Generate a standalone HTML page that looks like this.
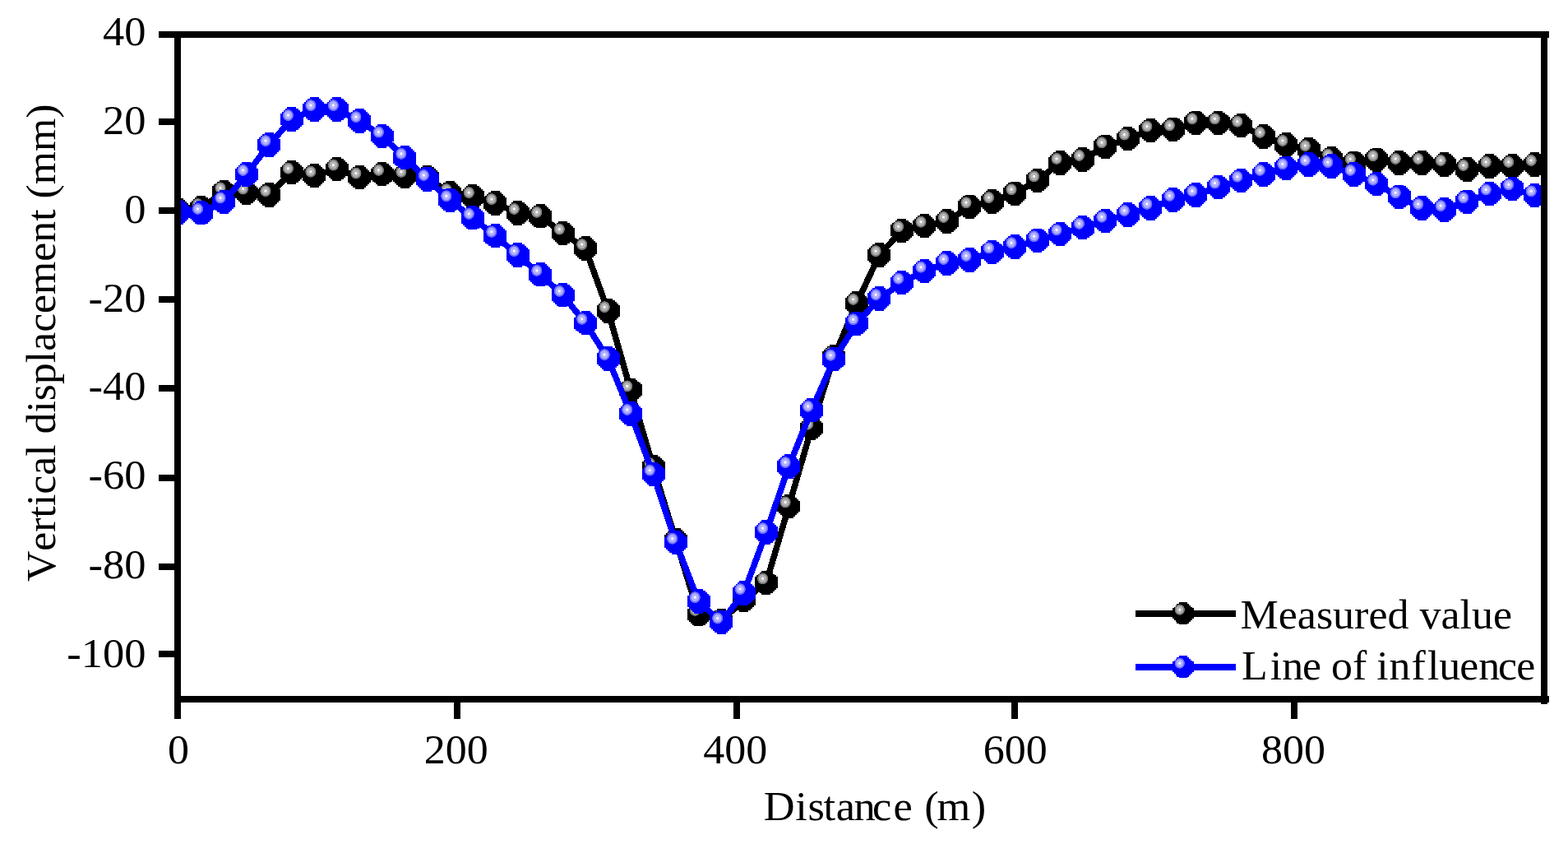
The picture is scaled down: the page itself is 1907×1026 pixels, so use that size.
<!DOCTYPE html>
<html lang="en">
<head>
<meta charset="utf-8">
<title>Vertical displacement vs distance</title>
<style>
html,body{margin:0;padding:0;background:#fff;}
body{width:1907px;height:1026px;overflow:hidden;}
svg{display:block;}
text{font-family:"Liberation Serif", "Times New Roman", serif;font-size:50px;fill:#000;font-variant-ligatures:none;font-kerning:none;}
</style>
</head>
<body>
<svg width="1907" height="1026" viewBox="0 0 1907 1026">
<defs>
<clipPath id="plot"><rect x="216" y="42" width="1662" height="808"/></clipPath>
<radialGradient id="gmk" cx="0.5" cy="0.5" r="0.5">
<stop offset="0" stop-color="#fff"/>
<stop offset="0.12" stop-color="#fff"/>
<stop offset="0.32" stop-color="#b2b2b2"/>
<stop offset="0.64" stop-color="#b2b2b2"/>
<stop offset="0.74" stop-color="#7a7a7a"/>
<stop offset="0.93" stop-color="#7a7a7a"/>
<stop offset="1" stop-color="#000"/>
</radialGradient>
<g id="mk">
<path d="M5.5,-14.70 L5.5,-12.74 L8,-12.74 L8,-10.78 L10,-10.78 L10,-8.82 L12,-8.82 L12,-6.86 L14,-6.86 L14,-4.90 L14,-4.90 L14,-2.94 L14,-2.94 L14,-0.98 L14,-0.98 L14,0.98 L14,0.98 L14,2.94 L14,2.94 L14,4.90 L14,4.90 L14,6.86 L12,6.86 L12,8.82 L10,8.82 L10,10.78 L8,10.78 L8,12.74 L5.5,12.74 L5.5,14.70 L-5.5,14.70 L-5.5,12.74 L-8,12.74 L-8,10.78 L-10,10.78 L-10,8.82 L-12,8.82 L-12,6.86 L-14,6.86 L-14,4.90 L-14,4.90 L-14,2.94 L-14,2.94 L-14,0.98 L-14,0.98 L-14,-0.98 L-14,-0.98 L-14,-2.94 L-14,-2.94 L-14,-4.90 L-14,-4.90 L-14,-6.86 L-12,-6.86 L-12,-8.82 L-10,-8.82 L-10,-10.78 L-8,-10.78 L-8,-12.74 L-5.5,-12.74 L-5.5,-14.70Z" fill="#000"/>
<ellipse cx="-4.3" cy="-4.9" rx="6.8" ry="7.2" fill="url(#gmk)" shape-rendering="geometricPrecision"/>
</g>
<radialGradient id="gmb" cx="0.5" cy="0.5" r="0.5">
<stop offset="0" stop-color="#fff"/>
<stop offset="0.12" stop-color="#fff"/>
<stop offset="0.32" stop-color="#b0b0ff"/>
<stop offset="0.64" stop-color="#b0b0ff"/>
<stop offset="0.74" stop-color="#7070ff"/>
<stop offset="0.93" stop-color="#7070ff"/>
<stop offset="1" stop-color="#0000ff"/>
</radialGradient>
<g id="mb">
<path d="M5.5,-14.70 L5.5,-12.74 L8,-12.74 L8,-10.78 L10,-10.78 L10,-8.82 L12,-8.82 L12,-6.86 L14,-6.86 L14,-4.90 L14,-4.90 L14,-2.94 L14,-2.94 L14,-0.98 L14,-0.98 L14,0.98 L14,0.98 L14,2.94 L14,2.94 L14,4.90 L14,4.90 L14,6.86 L12,6.86 L12,8.82 L10,8.82 L10,10.78 L8,10.78 L8,12.74 L5.5,12.74 L5.5,14.70 L-5.5,14.70 L-5.5,12.74 L-8,12.74 L-8,10.78 L-10,10.78 L-10,8.82 L-12,8.82 L-12,6.86 L-14,6.86 L-14,4.90 L-14,4.90 L-14,2.94 L-14,2.94 L-14,0.98 L-14,0.98 L-14,-0.98 L-14,-0.98 L-14,-2.94 L-14,-2.94 L-14,-4.90 L-14,-4.90 L-14,-6.86 L-12,-6.86 L-12,-8.82 L-10,-8.82 L-10,-10.78 L-8,-10.78 L-8,-12.74 L-5.5,-12.74 L-5.5,-14.70Z" fill="#0000ff"/>
<ellipse cx="-4.3" cy="-4.9" rx="6.8" ry="7.2" fill="url(#gmb)" shape-rendering="geometricPrecision"/>
</g>
</defs>
<rect width="1907" height="1026" fill="#fff"/>
<g clip-path="url(#plot)" shape-rendering="crispEdges">
<polyline points="217.3,256.0 244.8,253.0 272.3,233.3 299.8,234.5 327.2,237.1 354.7,209.6 382.2,213.6 409.7,205.5 437.2,215.5 464.7,211.7 492.2,213.8 519.6,216.0 547.1,235.0 574.6,239.0 602.1,247.0 629.6,258.9 657.1,262.8 684.6,283.5 712.0,302.0 739.5,378.1 767.0,474.3 794.5,568.0 822.0,657.0 849.5,746.8 877.0,754.7 904.5,729.5 931.9,708.3 959.4,615.4 986.9,520.6 1014.4,433.5 1041.9,368.8 1069.4,310.1 1096.9,280.3 1124.3,274.6 1151.8,268.9 1179.3,251.2 1206.8,245.0 1234.3,235.2 1261.8,219.3 1289.3,197.8 1316.7,193.9 1344.2,178.2 1371.7,168.5 1399.2,158.5 1426.7,157.2 1454.2,149.2 1481.7,149.3 1509.1,152.6 1536.6,165.8 1564.1,175.9 1591.6,182.0 1619.1,192.5 1646.6,198.2 1674.1,194.2 1701.5,197.9 1729.0,197.9 1756.5,199.9 1784.0,205.9 1811.5,201.8 1839.0,201.8 1866.5,199.9" fill="none" stroke="#000" stroke-width="7.5" stroke-linejoin="round"/>
<use href="#mk" x="217.3" y="256.0"/>
<use href="#mk" x="244.8" y="253.0"/>
<use href="#mk" x="272.3" y="233.3"/>
<use href="#mk" x="299.8" y="234.5"/>
<use href="#mk" x="327.2" y="237.1"/>
<use href="#mk" x="354.7" y="209.6"/>
<use href="#mk" x="382.2" y="213.6"/>
<use href="#mk" x="409.7" y="205.5"/>
<use href="#mk" x="437.2" y="215.5"/>
<use href="#mk" x="464.7" y="211.7"/>
<use href="#mk" x="492.2" y="213.8"/>
<use href="#mk" x="519.6" y="216.0"/>
<use href="#mk" x="547.1" y="235.0"/>
<use href="#mk" x="574.6" y="239.0"/>
<use href="#mk" x="602.1" y="247.0"/>
<use href="#mk" x="629.6" y="258.9"/>
<use href="#mk" x="657.1" y="262.8"/>
<use href="#mk" x="684.6" y="283.5"/>
<use href="#mk" x="712.0" y="302.0"/>
<use href="#mk" x="739.5" y="378.1"/>
<use href="#mk" x="767.0" y="474.3"/>
<use href="#mk" x="794.5" y="568.0"/>
<use href="#mk" x="822.0" y="657.0"/>
<use href="#mk" x="849.5" y="746.8"/>
<use href="#mk" x="877.0" y="754.7"/>
<use href="#mk" x="904.5" y="729.5"/>
<use href="#mk" x="931.9" y="708.3"/>
<use href="#mk" x="959.4" y="615.4"/>
<use href="#mk" x="986.9" y="520.6"/>
<use href="#mk" x="1014.4" y="433.5"/>
<use href="#mk" x="1041.9" y="368.8"/>
<use href="#mk" x="1069.4" y="310.1"/>
<use href="#mk" x="1096.9" y="280.3"/>
<use href="#mk" x="1124.3" y="274.6"/>
<use href="#mk" x="1151.8" y="268.9"/>
<use href="#mk" x="1179.3" y="251.2"/>
<use href="#mk" x="1206.8" y="245.0"/>
<use href="#mk" x="1234.3" y="235.2"/>
<use href="#mk" x="1261.8" y="219.3"/>
<use href="#mk" x="1289.3" y="197.8"/>
<use href="#mk" x="1316.7" y="193.9"/>
<use href="#mk" x="1344.2" y="178.2"/>
<use href="#mk" x="1371.7" y="168.5"/>
<use href="#mk" x="1399.2" y="158.5"/>
<use href="#mk" x="1426.7" y="157.2"/>
<use href="#mk" x="1454.2" y="149.2"/>
<use href="#mk" x="1481.7" y="149.3"/>
<use href="#mk" x="1509.1" y="152.6"/>
<use href="#mk" x="1536.6" y="165.8"/>
<use href="#mk" x="1564.1" y="175.9"/>
<use href="#mk" x="1591.6" y="182.0"/>
<use href="#mk" x="1619.1" y="192.5"/>
<use href="#mk" x="1646.6" y="198.2"/>
<use href="#mk" x="1674.1" y="194.2"/>
<use href="#mk" x="1701.5" y="197.9"/>
<use href="#mk" x="1729.0" y="197.9"/>
<use href="#mk" x="1756.5" y="199.9"/>
<use href="#mk" x="1784.0" y="205.9"/>
<use href="#mk" x="1811.5" y="201.8"/>
<use href="#mk" x="1839.0" y="201.8"/>
<use href="#mk" x="1866.5" y="199.9"/>
<polyline points="217.3,257.9 244.8,258.8 272.3,245.4 299.8,211.9 327.2,176.0 354.7,145.0 382.2,133.0 409.7,133.0 437.2,147.0 464.7,165.5 492.2,191.7 519.6,217.9 547.1,243.2 574.6,264.8 602.1,286.7 629.6,310.0 657.1,333.8 684.6,358.8 712.0,392.7 739.5,436.0 767.0,502.9 794.5,576.5 822.0,659.6 849.5,731.1 877.0,756.4 904.5,721.0 931.9,647.1 959.4,567.0 986.9,498.8 1014.4,436.7 1041.9,393.2 1069.4,363.1 1096.9,343.6 1124.3,329.6 1151.8,319.9 1179.3,315.9 1206.8,306.3 1234.3,300.1 1261.8,292.2 1289.3,284.4 1316.7,276.7 1344.2,268.6 1371.7,260.9 1399.2,252.8 1426.7,242.8 1454.2,237.1 1481.7,227.5 1509.1,219.6 1536.6,211.8 1564.1,204.2 1591.6,199.9 1619.1,202.1 1646.6,211.8 1674.1,223.6 1701.5,239.2 1729.0,253.0 1756.5,255.0 1784.0,245.2 1811.5,235.4 1839.0,229.3 1866.5,237.3" fill="none" stroke="#0000ff" stroke-width="7.5" stroke-linejoin="round"/>
<use href="#mb" x="217.3" y="257.9"/>
<use href="#mb" x="244.8" y="258.8"/>
<use href="#mb" x="272.3" y="245.4"/>
<use href="#mb" x="299.8" y="211.9"/>
<use href="#mb" x="327.2" y="176.0"/>
<use href="#mb" x="354.7" y="145.0"/>
<use href="#mb" x="382.2" y="133.0"/>
<use href="#mb" x="409.7" y="133.0"/>
<use href="#mb" x="437.2" y="147.0"/>
<use href="#mb" x="464.7" y="165.5"/>
<use href="#mb" x="492.2" y="191.7"/>
<use href="#mb" x="519.6" y="217.9"/>
<use href="#mb" x="547.1" y="243.2"/>
<use href="#mb" x="574.6" y="264.8"/>
<use href="#mb" x="602.1" y="286.7"/>
<use href="#mb" x="629.6" y="310.0"/>
<use href="#mb" x="657.1" y="333.8"/>
<use href="#mb" x="684.6" y="358.8"/>
<use href="#mb" x="712.0" y="392.7"/>
<use href="#mb" x="739.5" y="436.0"/>
<use href="#mb" x="767.0" y="502.9"/>
<use href="#mb" x="794.5" y="576.5"/>
<use href="#mb" x="822.0" y="659.6"/>
<use href="#mb" x="849.5" y="731.1"/>
<use href="#mb" x="877.0" y="756.4"/>
<use href="#mb" x="904.5" y="721.0"/>
<use href="#mb" x="931.9" y="647.1"/>
<use href="#mb" x="959.4" y="567.0"/>
<use href="#mb" x="986.9" y="498.8"/>
<use href="#mb" x="1014.4" y="436.7"/>
<use href="#mb" x="1041.9" y="393.2"/>
<use href="#mb" x="1069.4" y="363.1"/>
<use href="#mb" x="1096.9" y="343.6"/>
<use href="#mb" x="1124.3" y="329.6"/>
<use href="#mb" x="1151.8" y="319.9"/>
<use href="#mb" x="1179.3" y="315.9"/>
<use href="#mb" x="1206.8" y="306.3"/>
<use href="#mb" x="1234.3" y="300.1"/>
<use href="#mb" x="1261.8" y="292.2"/>
<use href="#mb" x="1289.3" y="284.4"/>
<use href="#mb" x="1316.7" y="276.7"/>
<use href="#mb" x="1344.2" y="268.6"/>
<use href="#mb" x="1371.7" y="260.9"/>
<use href="#mb" x="1399.2" y="252.8"/>
<use href="#mb" x="1426.7" y="242.8"/>
<use href="#mb" x="1454.2" y="237.1"/>
<use href="#mb" x="1481.7" y="227.5"/>
<use href="#mb" x="1509.1" y="219.6"/>
<use href="#mb" x="1536.6" y="211.8"/>
<use href="#mb" x="1564.1" y="204.2"/>
<use href="#mb" x="1591.6" y="199.9"/>
<use href="#mb" x="1619.1" y="202.1"/>
<use href="#mb" x="1646.6" y="211.8"/>
<use href="#mb" x="1674.1" y="223.6"/>
<use href="#mb" x="1701.5" y="239.2"/>
<use href="#mb" x="1729.0" y="253.0"/>
<use href="#mb" x="1756.5" y="255.0"/>
<use href="#mb" x="1784.0" y="245.2"/>
<use href="#mb" x="1811.5" y="235.4"/>
<use href="#mb" x="1839.0" y="229.3"/>
<use href="#mb" x="1866.5" y="237.3"/>
</g>
<g shape-rendering="crispEdges" fill="#000">
<rect x="193" y="38" width="1691" height="8"/>
<rect x="212" y="38" width="8" height="836"/>
<rect x="212" y="846" width="1672" height="8"/>
<rect x="1874" y="38" width="8" height="818"/>

<rect x="193" y="144" width="20" height="8"/>
<rect x="193" y="252" width="20" height="8"/>
<rect x="193" y="360" width="20" height="8"/>
<rect x="193" y="468" width="20" height="8"/>
<rect x="193" y="576.5" width="20" height="8"/>
<rect x="193" y="684.5" width="20" height="8"/>
<rect x="193" y="791" width="20" height="8"/>
<rect x="552" y="850" width="8" height="24"/>
<rect x="892" y="850" width="8" height="24"/>
<rect x="1230" y="850" width="8" height="24"/>
<rect x="1569.8" y="850" width="8" height="24"/>
</g>
<text transform="translate(177.5,54.8) scale(1.05,1)" text-anchor="end">40</text>
<text transform="translate(177.5,162.8) scale(1.05,1)" text-anchor="end">20</text>
<text transform="translate(177.5,270.8) scale(1.05,1)" text-anchor="end">0</text>
<text transform="translate(177.5,378.8) scale(1.05,1)" text-anchor="end">-20</text>
<text transform="translate(177.5,486.4) scale(1.05,1)" text-anchor="end">-40</text>
<text transform="translate(177.5,594.4) scale(1.05,1)" text-anchor="end">-60</text>
<text transform="translate(177.5,702.6) scale(1.05,1)" text-anchor="end">-80</text>
<text transform="translate(177.5,810.8) scale(1.05,1)" text-anchor="end">-100</text>
<text transform="translate(217,928.1) scale(1.04,1)" text-anchor="middle">0</text>
<text transform="translate(554.7,928.1) scale(1.04,1)" text-anchor="middle">200</text>
<text transform="translate(894.3,928.1) scale(1.04,1)" text-anchor="middle">400</text>
<text transform="translate(1234.7,928.1) scale(1.04,1)" text-anchor="middle">600</text>
<text transform="translate(1573,928.1) scale(1.04,1)" text-anchor="middle">800</text>
<text transform="translate(1063.2,997) scale(1.048,1)" text-anchor="middle" dx="0.76 0.67 0.76 -1.43 0.67 -1.43 -3.63 2.19 0.95 0.48 -2.19 1.53">Distance (m)</text>
<text transform="translate(67,416.8) rotate(-90) scale(1.035,1)" text-anchor="middle">Vertical displacement (mm)</text>
<g shape-rendering="crispEdges">
<rect x="1381" y="742" width="122" height="8" fill="#000"/>
<use href="#mk" transform="translate(1438.8,745.8) scale(0.93)"/>
<rect x="1381" y="807" width="122" height="8" fill="#0000ff"/>
<use href="#mb" transform="translate(1438.8,810.8) scale(0.93)"/>
</g>
<text transform="translate(1508.5,763.5) scale(1.04,1)" text-anchor="start">Measured value</text>
<text transform="translate(1510,825.8) scale(1.037,1)" text-anchor="start" dx="0 2.99 0 -0.96 -0.58 -0.48 0 -0.48 -0.48 0.96 1.06 2.03 0 -1.06 0 -2.03 -0.68">Line of influence</text>
</svg>
</body>
</html>
